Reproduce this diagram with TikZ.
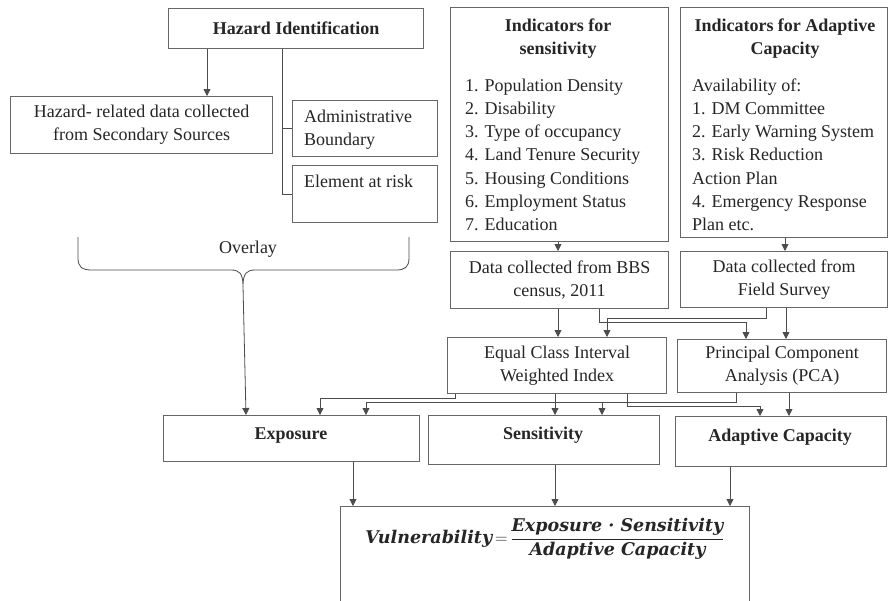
\documentclass[tikz,border=0pt]{standalone}
\usepackage{fontspec}
\setmainfont{Liberation Serif}
\newfontfamily\fmf{DejaVu Serif}
\usetikzlibrary{arrows.meta}
\begin{document}
\begin{tikzpicture}[x=1pt,y=-1pt,
  every node/.style={font=\fontsize{18}{23}\selectfont},
  box/.style={draw=black!60, line width=1.1pt, anchor=north west, inner sep=0pt, text=black!85},
  con/.style={draw=black!70, line width=0.8pt},
  arr/.style={con, -{Triangle[width=7pt,length=7pt]}},
  txt/.style={inner sep=0pt, text=black!85}
]
\useasboundingbox[fill=white] (0,0) rectangle (888,600);

% column / row helpers
\foreach \c in {207,246,282,320,353,366,455,555,558,599,602,607,627,730,736,746,760,766,785,786,789}
  {\coordinate (x\c) at (\c,0);}
\coordinate (yP) at (0,402);

% hazard part
\node[box, minimum width=255, minimum height=40] (hid) at (168,8) {\bfseries Hazard Identification};
\node[box, minimum width=262, minimum height=57, align=center] (hrel) at (10,96) {Hazard- related data collected\\from Secondary Sources};
\node[box, minimum width=145, minimum height=56] (adm) at (292,100) {};
\node[txt, anchor=base west] (admT) at (304,122) {\parbox[t]{130pt}{Administrative\\Boundary}};
\node[box, minimum width=145, minimum height=57] (elem) at (292,165) {};
\node[txt, anchor=base west] (elemT) at (304,187) {Element at risk};

% indicators
\node[box, minimum width=218, minimum height=234] (sbox) at (450,7) {};
\node[txt, anchor=base] (sT) at (558,31) {\parbox[t]{210pt}{\centering\bfseries Indicators for\\sensitivity}};
\node[txt, anchor=base west] (sL) at (465,91) {\parbox[t]{200pt}{\baselineskip=23.3pt 1. Population Density\\2. Disability\\3. Type of occupancy\\4. Land Tenure Security\\5. Housing Conditions\\6. Employment Status\\7. Education}};
\node[box, minimum width=207, minimum height=230] (abox) at (680,7) {};
\node[txt, anchor=base] (aT) at (785,31) {\parbox[t]{205pt}{\centering\bfseries Indicators for Adaptive\\Capacity}};
\node[txt, anchor=base west] (aL) at (692,91) {\parbox[t]{195pt}{\baselineskip=23.3pt Availability of:\\1. DM Committee\\2. Early Warning System\\3. Risk Reduction\\Action Plan\\4. Emergency Response\\Plan etc.}};

% data / methods
\node[box, minimum width=218, minimum height=57, align=center] (bbs) at (450,251) {Data collected from BBS\\census, 2011};
\node[box, minimum width=207, minimum height=56, align=center] (fld) at (680,251) {Data collected from\\Field Survey};
\node[box, minimum width=219, minimum height=56, align=center] (eq) at (447,337) {Equal Class Interval\\Weighted Index};
\node[box, minimum width=209, minimum height=53, align=center] (pca) at (677,339) {Principal Component\\Analysis (PCA)};

% components
\node[box, minimum width=256, minimum height=46] (exp) at (163,415) {};
\node[txt, anchor=base] (expT) at (291,439) {\bfseries Exposure};
\node[box, minimum width=231, minimum height=49] (sen) at (428,415) {};
\node[txt, anchor=base] (senT) at (543,439) {\bfseries Sensitivity};
\node[box, minimum width=211, minimum height=50] (ada) at (675,416) {};
\node[txt, anchor=base] (adaT) at (780,441) {\bfseries Adaptive Capacity};

% vulnerability
\node[box, minimum width=409, minimum height=100] (vul) at (340,506) {};
\node[txt, font=\fmf\bfseries\itshape\fontsize{17.5}{20}\selectfont] (form) at (545,539)
  {Vulnerability\,$=$\,$\displaystyle\frac{\mbox{Exposure · Sensitivity}}{\mbox{Adaptive Capacity}}$};

% overlay
\node[txt, anchor=base] (ovl) at (248,253) {Overlay};
\draw[con] (78,237) -- (78,258) .. controls (78,267) and (82,270) .. (92,270) -- (231,270)
  .. controls (239,270) and (243,273) .. (243,286)
  .. controls (243,273) and (247,270) .. (255,270) -- (396,270)
  .. controls (405,270) and (409,267) .. (409,258) -- (409,237);
\coordinate (ovtip) at (243,286);

% connectors
\draw[arr] (hid.south -| x207) -- (hrel.north -| x207);
\draw[con] (hid.south -| x282) |- (elem.west);
\draw[con] (adm.west -| x282) -- (adm.west);
\draw[arr] (ovtip) -- (exp.north -| x246);

\draw[arr] (sbox.south -| x558) -- (bbs.north -| x558);
\draw[arr] (abox.south -| x785) -- (fld.north -| x785);

\draw[arr] (bbs.south -| x558) -- (eq.north -| x558);
\draw[arr] (bbs.south -| x599) -- ++(0,13) -| (pca.north -| x746);
\draw[arr] (fld.south -| x766) -- ++(0,10) -| (eq.north -| x607);
\draw[arr] (fld.south -| x786) -- (pca.north -| x786);

\draw[arr] (eq.south -| x455) -- ++(0,4) -| (exp.north -| x320);
\draw[arr] (pca.south -| x736) |- (yP -| x366) -- (exp.north -| x366);
\draw[arr] (yP -| x602) -- (sen.north -| x602);
\draw[arr] (eq.south -| x555) -- (sen.north -| x555);
\draw[arr] (eq.south -| x627) -- ++(0,12) -| (ada.north -| x760);
\draw[arr] (pca.south -| x789) -- (ada.north -| x789);

\draw[arr] (exp.south -| x353) -- (vul.north -| x353);
\draw[arr] (sen.south -| x555) -- (vul.north -| x555);
\draw[arr] (ada.south -| x730) -- (vul.north -| x730);
\end{tikzpicture}
\end{document}
